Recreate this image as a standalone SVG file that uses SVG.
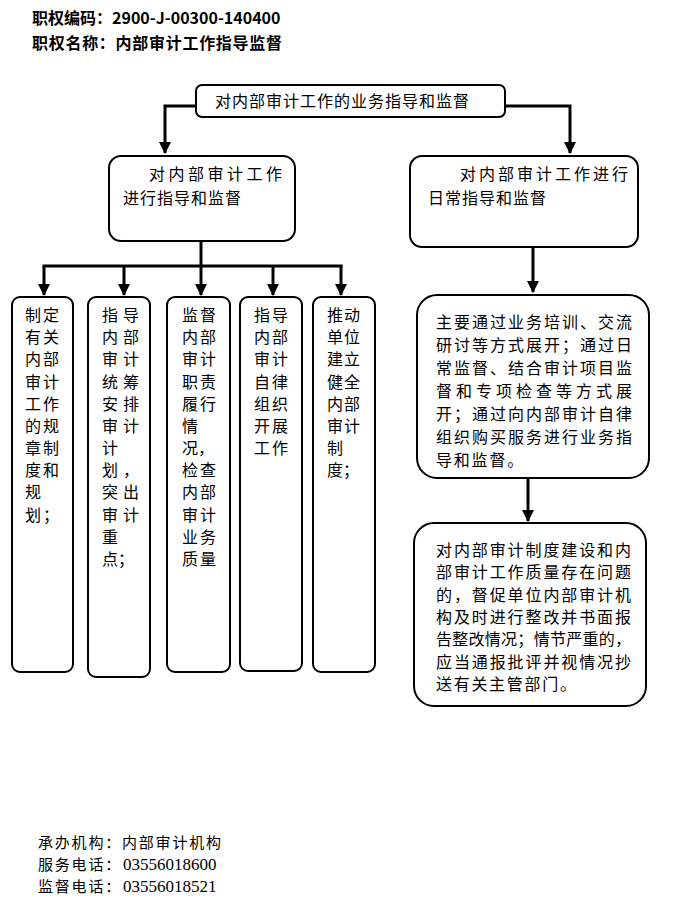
<svg xmlns="http://www.w3.org/2000/svg" width="690" height="903" viewBox="0 0 690 903">
<style>
.bg{fill:#fff}
.box{fill:#fff;stroke:#000;stroke-width:2}
.t{font-family:"Noto Sans CJK SC","Liberation Sans",sans-serif;font-size:16px;fill:#000}
.h{font-family:"Noto Sans CJK SC","Liberation Sans",sans-serif;font-size:16px;font-weight:bold;fill:#000}
.fc{font-family:"Noto Sans CJK SC","Liberation Sans",sans-serif;font-size:15px;letter-spacing:1.8px;fill:#000}
.d{font-family:"Liberation Serif",serif;font-size:17px;letter-spacing:0}
.c{fill:none;stroke:#000;stroke-width:3}
</style>
<defs>
<marker id="arr" markerUnits="userSpaceOnUse" markerWidth="12" markerHeight="12" viewBox="0 0 12 12" refX="11" refY="6" orient="auto">
<path d="M0,0 L12,6 L0,12 Z" fill="#000"/>
</marker>
</defs>
<rect class="bg" x="0" y="0" width="690" height="903"/>

<g id="header">
<text class="h" x="32" y="24">职权编码：2900-J-00300-140400</text>
<text class="h" x="32" y="49" textLength="250" lengthAdjust="spacing">职权名称：内部审计工作指导监督</text>
</g>

<g id="connectors">
<path class="c" d="M196,106 H165 V153" marker-end="url(#arr)"/>
<path class="c" d="M505,106 H570 V153" marker-end="url(#arr)"/>
<path class="c" d="M201,241 V266"/>
<path class="c" d="M42.5,266 H342.5"/>
<path class="c" d="M44,266 V295" marker-end="url(#arr)"/>
<path class="c" d="M124,266 V295" marker-end="url(#arr)"/>
<path class="c" d="M201,266 V295" marker-end="url(#arr)"/>
<path class="c" d="M273,266 V295" marker-end="url(#arr)"/>
<path class="c" d="M341,266 V295" marker-end="url(#arr)"/>
<path class="c" d="M533,247 V292" marker-end="url(#arr)"/>
<path class="c" d="M528,478 V521" marker-end="url(#arr)"/>
</g>

<g id="top">
<rect class="box" x="196" y="85" width="309" height="32" rx="6"/>
<text class="t" x="215" y="107" letter-spacing="1">对内部审计工作的业务指导和监督</text>
</g>

<g id="left">
<rect class="box" x="109" y="156" width="186" height="85" rx="12"/>
<text class="t" x="149" y="180" textLength="133" lengthAdjust="spacing">对内部审计工作</text>
<text class="t" x="123" y="204" letter-spacing="1">进行指导和监督</text>
</g>

<g id="right">
<rect class="box" x="410" y="156" width="228" height="91" rx="12"/>
<text class="t" x="460" y="180" textLength="168" lengthAdjust="spacing">对内部审计工作进行</text>
<text class="t" x="428" y="204" letter-spacing="1">日常指导和监督</text>
</g>

<g id="v1">
<rect class="box" x="12" y="297" width="61" height="375" rx="8"/>
<text class="t"><tspan x="25 43" y="321">制定</tspan><tspan x="25 43" y="343">有关</tspan><tspan x="25 43" y="365">内部</tspan><tspan x="25 43" y="388">审计</tspan><tspan x="25 43" y="410">工作</tspan><tspan x="25 43" y="432">的规</tspan><tspan x="25 43" y="454">章制</tspan><tspan x="25 43" y="476">度和</tspan><tspan x="25" y="498">规</tspan><tspan x="25 43" y="521">划；</tspan></text>
</g>

<g id="v2">
<rect class="box" x="88" y="297" width="62" height="380" rx="8"/>
<text class="t"><tspan x="102 123" y="321">指导</tspan><tspan x="102 123" y="343">内部</tspan><tspan x="102 123" y="365">审计</tspan><tspan x="102 123" y="388">统筹</tspan><tspan x="102 123" y="410">安排</tspan><tspan x="102 123" y="432">审计</tspan><tspan x="102" y="454">计</tspan><tspan x="102 123" y="476">划，</tspan><tspan x="102 123" y="498">突出</tspan><tspan x="102 123" y="521">审计</tspan><tspan x="102" y="543">重</tspan><tspan x="102 118" y="565">点；</tspan></text>
</g>

<g id="v3">
<rect class="box" x="167" y="297" width="63" height="375" rx="8"/>
<text class="t"><tspan x="182 200" y="321">监督</tspan><tspan x="182 200" y="343">内部</tspan><tspan x="182 200" y="365">审计</tspan><tspan x="182 200" y="388">职责</tspan><tspan x="182 200" y="410">履行</tspan><tspan x="182" y="432">情</tspan><tspan x="182 198" y="454">况，</tspan><tspan x="182 200" y="476">检查</tspan><tspan x="182 200" y="498">内部</tspan><tspan x="182 200" y="521">审计</tspan><tspan x="182 200" y="543">业务</tspan><tspan x="182 200" y="565">质量</tspan></text>
</g>

<g id="v4">
<rect class="box" x="240" y="297" width="62" height="374" rx="8"/>
<text class="t"><tspan x="254 272" y="321">指导</tspan><tspan x="254 272" y="343">内部</tspan><tspan x="254 272" y="365">审计</tspan><tspan x="254 272" y="388">自律</tspan><tspan x="254 272" y="410">组织</tspan><tspan x="254 272" y="432">开展</tspan><tspan x="254 272" y="454">工作</tspan></text>
</g>

<g id="v5">
<rect class="box" x="313" y="297" width="62" height="375" rx="8"/>
<text class="t"><tspan x="327 344" y="321">推动</tspan><tspan x="327 344" y="343">单位</tspan><tspan x="327 344" y="365">建立</tspan><tspan x="327 344" y="388">健全</tspan><tspan x="327 344" y="410">内部</tspan><tspan x="327 344" y="432">审计</tspan><tspan x="327" y="454">制</tspan><tspan x="327 343" y="476">度；</tspan></text>
</g>

<g id="mid">
<rect class="box" x="417" y="295" width="232" height="183" rx="20"/>
<text class="t" x="436" y="328" textLength="196" lengthAdjust="spacing">主要通过业务培训、交流</text>
<text class="t" x="436" y="351" textLength="196" lengthAdjust="spacing">研讨等方式展开；通过日</text>
<text class="t" x="436" y="374" textLength="196" lengthAdjust="spacing">常监督、结合审计项目监</text>
<text class="t" x="436" y="397" textLength="196" lengthAdjust="spacing">督和专项检查等方式展</text>
<text class="t" x="436" y="420" textLength="196" lengthAdjust="spacing">开；通过向内部审计自律</text>
<text class="t" x="436" y="443" textLength="196" lengthAdjust="spacing">组织购买服务进行业务指</text>
<text class="t" x="436" y="466" letter-spacing="1.8">导和监督。</text>
</g>

<g id="bottom">
<rect class="box" x="414" y="523" width="232" height="183" rx="20"/>
<text class="t" x="436" y="556" textLength="195" lengthAdjust="spacing">对内部审计制度建设和内</text>
<text class="t" x="436" y="578" textLength="195" lengthAdjust="spacing">部审计工作质量存在问题</text>
<text class="t" x="436" y="601" textLength="195" lengthAdjust="spacing">的，督促单位内部审计机</text>
<text class="t" x="436" y="623" textLength="195" lengthAdjust="spacing">构及时进行整改并书面报</text>
<text class="t" x="436" y="645" textLength="195" lengthAdjust="spacing">告整改情况；情节严重的，</text>
<text class="t" x="436" y="668" textLength="195" lengthAdjust="spacing">应当通报批评并视情况抄</text>
<text class="t" x="436" y="690" letter-spacing="1.7">送有关主管部门。</text>
</g>

<g id="footer">
<text class="fc"><tspan x="38" y="848">承办机构：内部审计机构</tspan><tspan x="38" y="870">服务电话：</tspan><tspan class="d" x="123" y="870">03556018600</tspan><tspan x="38" y="892">监督电话：</tspan><tspan class="d" x="123" y="892">03556018521</tspan></text>
</g>
</svg>
